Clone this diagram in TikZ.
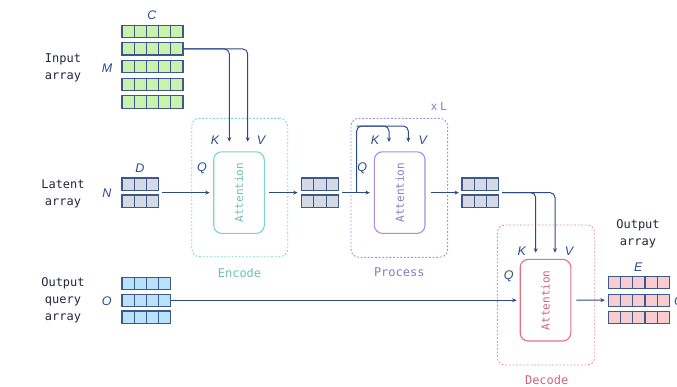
\documentclass[tikz,border=0pt]{standalone}
\usepackage{fontspec}
\setsansfont{Liberation Sans}
\newfontfamily\plexmono{DejaVu Sans Mono}
\usetikzlibrary{arrows.meta,calc}

\definecolor{navy}{RGB}{44,74,138}
\definecolor{cellblue}{RGB}{62,88,142}
\definecolor{ink}{RGB}{32,40,56}
\definecolor{ingreen}{RGB}{201,242,170}
\definecolor{latgray}{RGB}{212,217,228}
\definecolor{qryblue}{RGB}{184,226,250}
\definecolor{outpink}{RGB}{249,205,208}
\definecolor{encteal}{RGB}{120,214,196}
\definecolor{proclilac}{RGB}{165,140,226}
\definecolor{decrose}{RGB}{228,112,136}

\begin{document}
\begin{tikzpicture}[x=1pt,y=-1pt]
    \tikzstyle{cell}=[draw=cellblue,line width=1.1pt,minimum size=12.2pt,inner sep=0pt]
    \tikzstyle{flow}=[draw=navy,line width=1pt,rounded corners=5pt,-{Stealth[length=4.5pt,width=4pt]}]
    \tikzstyle{attn}=[draw,line width=1.1pt,rounded corners=8pt,minimum width=50.6pt,minimum height=81.6pt]
    \tikzstyle{group}=[draw,line width=0.9pt,dash pattern=on 1.8pt off 1.8pt,rounded corners=8pt]
    \tikzstyle{lbl}=[font=\plexmono\fontsize{12}{17}\selectfont,align=center,text=ink]
    \tikzstyle{dim}=[font=\sffamily\itshape\fontsize{12.5}{14}\selectfont,text=navy]
    \tikzstyle{word}=[font=\plexmono\fontsize{11}{13}\selectfont,rotate=90]

    \useasboundingbox (0,0) rectangle (677,386);

    % arrays
    \foreach \r in {0,...,4}
        \foreach \c in {0,...,4}
            \node[cell,fill=ingreen] (inp\r\c) at (128.1+12.2*\c,31.2+17.7*\r) {};
    \foreach \r in {0,1}
        \foreach \c in {0,1,2} {
            \node[cell,fill=latgray] (lata\r\c) at (128.1+12.2*\c,184.1+17*\r) {};
            \node[cell,fill=latgray] (latb\r\c) at (307.8+12.2*\c,184.1+17*\r) {};
            \node[cell,fill=latgray] (latc\r\c) at (468.1+12.2*\c,184.1+17*\r) {};
        }
    \foreach \r in {0,1,2}
        \foreach \c in {0,...,3}
            \node[cell,fill=qryblue] (qry\r\c) at (128.1+12.2*\c,283.3+16.9*\r) {};
    \foreach \r in {0,1,2}
        \foreach \c in {0,...,4}
            \node[cell,fill=outpink] (out\r\c) at (614.5+12.2*\c,282.6+17.6*\r) {};

    \coordinate (lata-out) at ($(lata02.east)!.5!(lata12.east)$);
    \coordinate (latb-in) at ($(latb00.west)!.5!(latb10.west)$);
    \coordinate (latb-out) at ($(latb02.east)!.5!(latb12.east)$);
    \coordinate (latc-in) at ($(latc00.west)!.5!(latc10.west)$);
    \coordinate (latc-out) at ($(latc02.east)!.5!(latc12.east)$);

    % blocks
    \node[group,draw=encteal,minimum width=96pt,minimum height=138.4pt] (encbox) at (239.7,187.5) {};
    \node[group,draw=proclilac,minimum width=96.7pt,minimum height=139pt] (procbox) at (399.3,187.8) {};
    \node[group,draw=decrose!80,minimum width=97.4pt,minimum height=140pt] (decbox) at (546,295) {};
    \node[attn,draw=encteal] (enc) at (239,192.6) {};
    \node[attn,draw=proclilac] (proc) at (399.7,192.6) {};
    \node[attn,draw=decrose] (dec) at (545.5,300.2) {};
    \node[word,text=encteal!90!black] (enctxt) at (enc) {Attention};
    \node[word,text=proclilac!85!black] (proctxt) at (proc) {Attention};
    \node[word,text=decrose!90!black] (dectxt) at (dec) {Attention};

    % connectors
    \coordinate (encK) at (229.3,141.7);
    \coordinate (encV) at (247.7,141.7);
    \coordinate (branch) at (356.7,192.6);
    \coordinate (loop) at (356.7,126);
    \coordinate (procK) at (389,142);
    \coordinate (procV) at (408.3,142);
    \coordinate (decK) at (535.7,252.7);
    \coordinate (decV) at (555,252.7);

    \draw[flow] (inp14.east) -| (encK);
    \draw[flow] (inp14.east) -| (encV);
    \draw[flow,shorten <=3pt,shorten >=3.5pt] (lata-out) -- (enc.west);
    \draw[flow,shorten <=4.5pt,shorten >=3.5pt] (enc.east) -- (latb-in);
    \draw[flow,shorten <=3pt,shorten >=4pt] (latb-out) -- (proc.west);
    \draw[flow] (branch) -- (loop) -| (procV);
    \draw[flow] (loop) -| (procK);
    \draw[flow,shorten <=5pt,shorten >=2.5pt] (proc.east) -- (latc-in);
    \draw[flow,shorten <=3pt] (latc-out) -| (decK);
    \draw[flow,shorten <=3pt] (latc-out) -| (decV);
    \draw[flow,shorten >=3pt] (qry13.east) -- (dec.west);
    \draw[flow,shorten <=5pt,shorten >=3pt] (dec.east) -- (out10.west);

    % labels
    \node[dim] (dimC) at (152,14.7) {C};
    \node[dim] (dimM) at (107,68) {M};
    \node[dim] (dimD) at (140,168.3) {D};
    \node[dim] (dimN) at (107,193.3) {N};
    \node[dim] (dimO) at (106.7,300.7) {O};
    \node[dim] (dimE) at (638.3,266.7) {E};
    \node[dim] (dimOout) at (679,301) {O};
    \node[dim] (encKl) at (215,140) {K};
    \node[dim] (encVl) at (261,140) {V};
    \node[dim] (encQl) at (202,168.3) {Q};
    \node[dim] (procKl) at (375,140) {K};
    \node[dim] (procVl) at (422.7,140) {V};
    \node[dim] (procQl) at (362.3,168.3) {Q};
    \node[dim] (decKl) at (521.7,250.7) {K};
    \node[dim] (decVl) at (569,250.7) {V};
    \node[dim] (decQl) at (508.7,276) {Q};

    \node[lbl] (inptxt) at (63,67.5) {Input\\array};
    \node[lbl] (lattxt) at (63,194) {Latent\\array};
    \node[lbl] (qrytxt) at (63,300.5) {Output\\query\\array};
    \node[lbl] (outtxt) at (638,233.3) {Output\\array};
    \node[lbl,text=encteal!90!black] (encname) at (239.5,273.3) {Encode};
    \node[lbl,text=proclilac!85!black] (procname) at (399.3,272.7) {Process};
    \node[lbl,text=decrose!90!black] (decname) at (546.7,380) {Decode};
    \node[font=\sffamily\fontsize{12}{14}\selectfont,text=proclilac!85!black] (reps) at (439,106.7) {x L};
\end{tikzpicture}
\end{document}
